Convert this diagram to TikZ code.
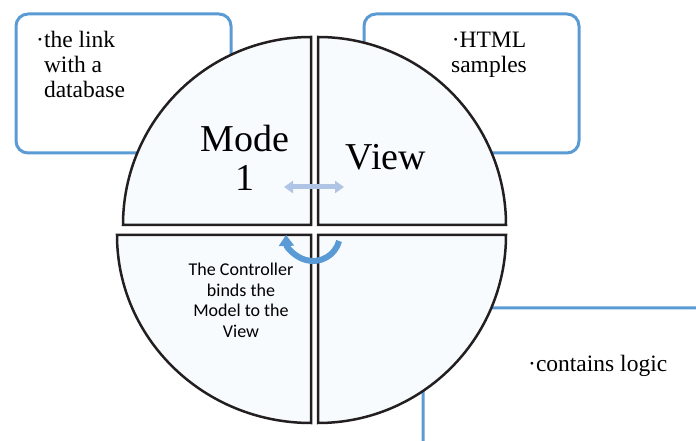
\documentclass[tikz,border=0pt]{standalone}
\usepackage{fontspec}
\setmainfont{Liberation Serif}
\newfontfamily\carlito{Carlito}
\usetikzlibrary{arrows.meta}
\definecolor{boxblue}{RGB}{91,155,213}
\definecolor{pale}{RGB}{248,251,253}
\definecolor{ink}{RGB}{35,31,32}
\definecolor{lightarrow}{RGB}{176,196,230}

\begin{document}
\begin{tikzpicture}[x=1pt,y=1pt,
  textbox/.style={draw=boxblue,line width=3pt,rounded corners=12pt,fill=white},
  quarter/.style={draw=ink,fill=pale,line width=2.5pt,line join=miter},
  small/.style={inner sep=0pt,font=\fontsize{23.5}{25}\selectfont},
  big/.style={inner sep=0pt,align=center,font=\fontsize{38}{39}\selectfont}]
  \useasboundingbox (0,0) rectangle (696,441);

  \draw[textbox] (16,427) rectangle (231,288);
  \draw[textbox] (364,427) rectangle (579,288);
  \draw[textbox] (423,133) rectangle (708,-12);

  \draw[quarter] (311,216) -- (123,216) arc[start angle=180,end angle=90,radius=188] -- cycle;
  \draw[quarter] (318,216) -- (318,404) arc[start angle=90,end angle=0,radius=188] -- cycle;
  \draw[quarter] (311,206) -- (117,206) arc[start angle=180,end angle=270,x radius=194,y radius=188] -- cycle;
  \draw[quarter] (318,206) -- (506,206) arc[start angle=0,end angle=-90,radius=188] -- cycle;

  \node[small,anchor=north west,align=left] (0) at (36,410) {·the link\\\hphantom{·}with a\\\hphantom{·}database};
  \node[small,anchor=north,align=center] (1) at (489,409) {·HTML\\samples};
  \node[small,anchor=base west] (2) at (528,69) {·contains logic};

  \node[big] (3) at (245,283.5) {Mode\\1};
  \node[big] (4) at (386,284) {View};

  \node[inner sep=0pt,align=center,anchor=north,font=\carlito\fontsize{18}{20.5}\selectfont] (5) at (241,178) {The Controller\\binds the\\Model to the\\View};

  \coordinate (6) at (284,254);
  \coordinate (7) at (344,254);
  \coordinate (8) at (339.1,200);

  \draw[{Triangle[width=12pt,length=9pt]}-{Triangle[width=12pt,length=9pt]},lightarrow,line width=5pt] (6) -- (7);
  \draw[-{Triangle[width=15pt,length=11pt]},boxblue,line width=6pt] (8) arc[start angle=-15,end angle=-178,radius=27];
\end{tikzpicture}
\end{document}
